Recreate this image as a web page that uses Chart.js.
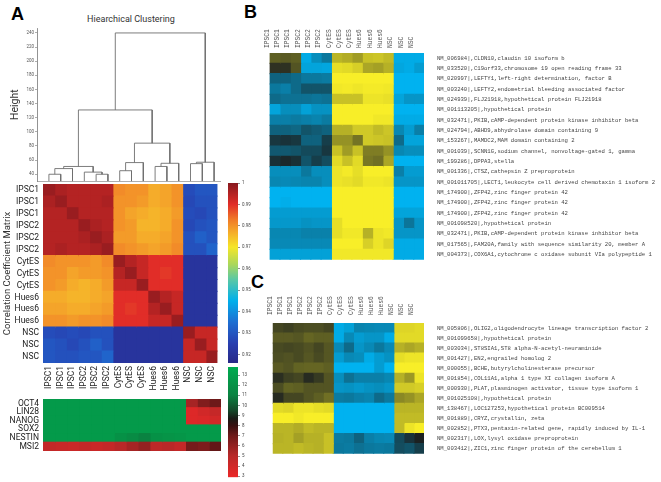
<!DOCTYPE html>
<html>
<head>
<meta charset="utf-8">
<script src="https://cdn.jsdelivr.net/npm/chart.js"></script>
<style>
  html, body { margin: 0; padding: 0; background: #fff; }
  body { width: 661px; height: 482px; position: relative; overflow: hidden; font-family: Roboto, sans-serif; }
  canvas { position: absolute; }
  .panel { position: absolute; font-family: "Liberation Sans", Arial, sans-serif; font-weight: bold; font-size: 18px; line-height: 1; color: #000; }
  .title { position: absolute; left: 60px; width: 142px; top: 14px; text-align: center; font-size: 9px; color: #333; }
</style>
</head>
<body>
<div class="panel" style="left:11px;top:5px">A</div>
<div class="panel" style="left:244px;top:3px">B</div>
<div class="panel" style="left:251px;top:273px">C</div>
<div class="title">Hiearchical Clustering</div>

<canvas id="dendro" width="225" height="185" style="left:0;top:0"></canvas>
<canvas id="corr" width="225" height="225" style="left:0;top:175px"></canvas>
<canvas id="corrBar" width="45" height="195" style="left:222px;top:175px"></canvas>
<canvas id="markers" width="225" height="70" style="left:0;top:390px"></canvas>
<canvas id="exprBar" width="45" height="120" style="left:222px;top:362px"></canvas>
<canvas id="heatB" width="399" height="256" style="left:262px;top:20px"></canvas>
<canvas id="heatC" width="399" height="185" style="left:262px;top:285px"></canvas>

<script>
// ---- data ----
const samples = ['IPSC1','IPSC1','IPSC1','IPSC2','IPSC2','IPSC2','CytES','CytES','CytES','Hues6','Hues6','Hues6','NSC','NSC','NSC'];

// dendrogram links: [left x, left bottom, right x, right bottom, merge height] (x = column index)
const dendroBase = 30;
const dendroTicks = [40, 60, 80, 100, 120, 140, 160, 180, 200, 220, 240];
const dendroLinks = [
  [0.5, 30, 1.5, 30, 40],
  [1.0, 40, 2.5, 30, 48],
  [4.5, 30, 5.5, 30, 40],
  [3.5, 30, 5.0, 40, 43],
  [1.75, 48, 4.25, 43, 51],
  [6.5, 30, 7.5, 30, 45],
  [7.0, 45, 8.5, 30, 56.5],
  [9.5, 30, 10.5, 30, 51],
  [10.0, 51, 11.5, 30, 55.5],
  [12.5, 30, 13.5, 30, 55],
  [13.0, 55, 14.5, 30, 57],
  [7.75, 56.5, 10.75, 55.5, 84],
  [3.0, 51, 9.25, 84, 131],
  [6.125, 131, 13.75, 57, 240]
];

// correlation coefficient matrix (rows/cols = samples)
const corr = [
  [0.998,0.996,0.995,0.995,0.995,0.995, 0.981,0.980,0.980,0.977,0.978,0.980, 0.928,0.930,0.930],
  [0.996,0.998,0.995,0.995,0.995,0.996, 0.980,0.980,0.979,0.977,0.978,0.980, 0.927,0.929,0.929],
  [0.995,0.995,0.998,0.995,0.995,0.995, 0.980,0.978,0.977,0.976,0.977,0.979, 0.928,0.927,0.929],
  [0.995,0.995,0.995,0.998,0.996,0.995, 0.980,0.979,0.976,0.976,0.977,0.980, 0.927,0.929,0.930],
  [0.995,0.995,0.995,0.996,0.998,0.996, 0.979,0.979,0.977,0.977,0.978,0.980, 0.929,0.932,0.930],
  [0.995,0.996,0.995,0.995,0.996,0.998, 0.981,0.980,0.979,0.978,0.979,0.981, 0.929,0.929,0.933],
  [0.981,0.980,0.980,0.980,0.979,0.981, 0.998,0.995,0.993,0.990,0.990,0.990, 0.921,0.921,0.921],
  [0.980,0.980,0.978,0.979,0.979,0.980, 0.995,0.998,0.993,0.990,0.989,0.990, 0.921,0.921,0.921],
  [0.980,0.979,0.977,0.976,0.977,0.979, 0.993,0.993,0.998,0.990,0.990,0.990, 0.921,0.921,0.921],
  [0.977,0.977,0.976,0.976,0.977,0.978, 0.990,0.990,0.990,0.998,0.995,0.993, 0.921,0.921,0.921],
  [0.978,0.978,0.977,0.977,0.978,0.979, 0.990,0.989,0.990,0.995,0.998,0.993, 0.921,0.921,0.921],
  [0.980,0.980,0.979,0.980,0.980,0.981, 0.990,0.990,0.990,0.993,0.993,0.998, 0.921,0.921,0.921],
  [0.928,0.927,0.928,0.927,0.929,0.929, 0.921,0.921,0.921,0.921,0.921,0.921, 0.998,0.993,0.993],
  [0.930,0.929,0.927,0.929,0.932,0.929, 0.921,0.921,0.921,0.921,0.921,0.921, 0.993,0.998,0.993],
  [0.930,0.929,0.929,0.930,0.930,0.933, 0.921,0.921,0.921,0.921,0.921,0.921, 0.993,0.993,0.998]
];
const corrMin = 0.916, corrMax = 1;
const corrTicks = [0.92, 0.93, 0.94, 0.95, 0.96, 0.97, 0.98, 0.99, 1];

// marker gene expression
const markers = ['OCT4', 'LIN28', 'NANOG', 'SOX2', 'NESTIN', 'MSI2'];
const markerExpr = [
  [12.6,12.6,12.6,12.6,12.6,12.6, 12.6,12.6,12.6,12.6,12.6,12.6, 5.5,6.5,7.0],
  [12.6,12.6,12.6,12.6,12.6,12.6, 12.6,12.6,12.6,12.6,12.6,12.6, 3.5,4.0,4.5],
  [12.6,12.6,12.6,12.6,12.6,12.6, 12.6,12.6,12.6,12.6,12.6,12.6, 3.5,3.6,4.0],
  [12.6,12.6,12.6,12.6,12.6,12.6, 12.6,12.6,12.6,12.6,12.6,12.6, 12.6,12.6,12.6],
  [12.6,12.6,12.6,12.6,12.6,12.6, 12.0,11.6,11.0,12.0,12.2,12.3, 12.6,12.6,12.6],
  [4.6,4.4,4.3,4.5,4.3,4.5, 5.0,5.5,6.0,4.8,5.0,4.6, 6.8,6.6,7.2]
];
const exprMin = 2.9, exprMax = 13.8;
const exprTicks = [3, 4, 5, 6, 7, 8, 9, 10, 11, 12, 13];

// panel B: genes up in ES/iPS
const genesB = [
  'NM_006984|,CLDN10,claudin 10 isoform b',
  'NM_033520|,C19orf33,chromosome 19 open reading frame 33',
  'NM_020997|,LEFTY1,left-right determination, factor B',
  'NM_003240|,LEFTY2,endometrial bleeding associated factor',
  'NM_024939|,FLJ21918,hypothetical protein FLJ21918',
  'NM_001113205|,hypothetical protein',
  'NM_032471|,PKIB,cAMP-dependent protein kinase inhibitor beta',
  'NM_024794|,ABHD9,abhydrolase domain containing 9',
  'NM_153267|,MAMDC2,MAM domain containing 2',
  'NM_001039|,SCNN1G,sodium channel, nonvoltage-gated 1, gamma',
  'NM_199286|,DPPA3,stella',
  'NM_001336|,CTSZ,cathepsin Z preproprotein',
  'NM_001011705|,LECT1,leukocyte cell derived chemotaxin 1 isoform 2',
  'NM_174900|,ZFP42,zinc finger protein 42',
  'NM_174900|,ZFP42,zinc finger protein 42',
  'NM_174900|,ZFP42,zinc finger protein 42',
  'NM_001098520|,hypothetical protein',
  'NM_032471|,PKIB,cAMP-dependent protein kinase inhibitor beta',
  'NM_017565|,FAM20A,family with sequence similarity 20, member A',
  'NM_004373|,COX6A1,cytochrome c oxidase subunit VIa polypeptide 1'
];
const exprB = [
  [0.30,0.28,0.30,-0.95,-0.75,-0.60, 0.72,0.68,0.60,0.78,0.80,0.75, -0.95,-0.95,-0.95],
  [0.08,0.08,0.25,-0.90,-0.90,-0.92, 0.92,0.90,0.85,0.65,0.62,0.70, -0.92,-0.95,-0.85],
  [-0.45,-0.45,-0.50,-0.60,-0.60,-0.62, 1,1,1,1,1,1, -1,-1,-1],
  [-0.60,-0.65,-0.50,-0.35,-0.35,-0.35, 0.97,0.98,0.96,0.98,0.98,0.97, -1,-1,-1],
  [-0.50,-0.55,-0.55,-0.55,-0.58,-0.55, 0.78,0.78,0.78,0.95,0.95,0.93, -0.90,-0.80,-0.80],
  [-0.90,-0.75,-0.75,-0.88,-0.78,-0.78, 1,1,1,1,1,1, -1,-1,-1],
  [-0.65,-0.65,-0.62,-0.65,-0.68,-0.62, 1,1,1,1,0.97,0.97, -0.95,-0.95,-0.95],
  [-0.45,-0.45,-0.48,-0.35,-0.40,-0.45, 0.70,0.70,0.82,0.82,0.75,0.80, -0.70,-0.85,-0.65],
  [-0.15,-0.12,-0.15,-0.45,-0.45,-0.20, 0.55,0.55,0.40,0.82,0.80,0.78, -0.50,-0.90,-0.90],
  [-0.38,-0.38,-0.35,-0.28,-0.28,-0.15, 0.78,0.60,0.78,0.45,0.45,0.55, -0.70,-0.75,-0.75],
  [-0.10,-0.05,-0.10,-0.35,-0.20,-0.30, 0.90,0.78,0.90,0.42,0.38,0.65, -1,-1,-1],
  [-0.75,-0.75,-0.75,-0.60,-0.75,-0.75, 0.95,0.98,0.92,1,1,1, -0.65,-0.85,-0.85],
  [-0.70,-0.72,-0.70,-0.68,-0.68,-0.75, 0.95,0.93,0.90,0.97,0.97,0.95, -0.80,-0.80,-0.80],
  [-1,-1,-1,-1,-1,-1, 1,1,1,1,1,1, -1,-1,-1],
  [-1,-0.97,-1,-1,-1,-1, 1,1,1,1,1,1, -1,-1,-1],
  [-0.85,-0.85,-0.85,-0.85,-0.85,-0.85, 1,1,1,1,1,1, -0.90,-0.90,-0.90],
  [-0.82,-0.82,-0.82,-0.78,-0.80,-0.80, 0.92,1,1,1,1,1, -0.80,-0.58,-0.80],
  [-0.70,-0.70,-0.70,-0.66,-0.66,-0.66, 0.92,0.97,0.97,0.70,0.95,0.97, -0.80,-0.80,-0.80],
  [-0.72,-0.72,-0.72,-0.72,-0.72,-0.72, 1,1,1,0.85,0.95,0.88, -0.95,-0.95,-0.95],
  [-0.88,-0.88,-0.88,-0.88,-0.88,-0.88, 0.97,0.97,0.97,0.97,0.97,0.97, -0.95,-0.95,-0.95]
];

// panel C: genes up in NSC
const genesC = [
  'NM_005806|,OLIG2,oligodendrocyte lineage transcription factor 2',
  'NM_001099658|,hypothetical protein',
  'NM_003034|,ST8SIA1,ST8 alpha-N-acetyl-neuraminide',
  'NM_001427|,EN2,engrailed homolog 2',
  'NM_000055|,BCHE,butyrylcholinesterase precursor',
  'NM_001854|,COL11A1,alpha 1 type XI collagen isoform A',
  'NM_000930|,PLAT,plasminogen activator, tissue type isoform 1',
  'NM_001025108|,hypothetical protein',
  'NM_138467|,LOC127253,hypothetical protein BC009514',
  'NM_001889|,CRYZ,crystallin, zeta',
  'NM_002852|,PTX3,pentaxin-related gene, rapidly induced by IL-1',
  'NM_002317|,LOX,lysyl oxidase preproprotein',
  'NM_003412|,ZIC1,zinc finger protein of the cerebellum 1'
];
const exprC = [
  [0.18,0.15,0.20,0.22,0.22,0.18, -0.95,-0.88,-0.68,-0.70,-0.72,-0.72, 0.88,0.88,0.90],
  [0.28,0.28,0.26,0.33,0.30,0.30, -0.95,-0.72,-0.85,-0.80,-0.80,-0.95, 0.90,0.90,0.90],
  [0.20,0.18,0.20,0.24,0.18,0.26, -0.72,-0.50,-0.80,-0.72,-0.60,-0.72, 0.70,0.65,0.70],
  [0.22,0.24,0.20,0.26,0.20,0.26, -0.85,-0.72,-0.75,-0.95,-0.85,-0.78, 0.92,0.95,0.95],
  [0.28,0.25,0.32,0.33,0.33,0.30, -1,-1,-1,-1,-0.85,-1, 1,1,1],
  [0.07,0.15,0.18,0.05,0.12,0.25, -0.75,-0.55,-0.65,-0.65,-0.65,-0.70, 0.70,0.58,0.95],
  [0.22,0.32,0.30,0.25,0.25,0.25, -0.80,-0.78,-0.82,-0.78,-0.75,-0.80, 0.82,0.82,0.85],
  [0.05,0.18,0.18,0.25,0.30,0.38, -0.62,-0.60,-0.65,-0.68,-0.50,-0.60, 0.50,0.55,0.65],
  [0.90,0.88,0.95,0.95,0.92,0.90, -1,-1,-1,-1,-1,-1, 0.72,0.72,0.72],
  [1,1,0.97,1,1,1, -1,-1,-1,-1,-1,-1, 0.75,0.75,0.75],
  [0.72,0.72,0.68,0.75,0.72,0.72, -1,-1,-1,-1,-1,-1, 0.75,0.95,1],
  [0.70,0.72,0.62,0.70,0.70,0.78, -0.62,-0.60,-0.45,-0.65,-0.70,-0.72, -0.28,-0.12,0],
  [0.72,0.72,0.75,0.72,0.70,0.78, -0.60,-0.62,-0.55,-0.60,-0.62,-0.60, -0.30,-0.35,-0.20]
];

// ---- colour maps ----
const jetStops = [
  [0.916, [40,40,135]], [0.925, [40,62,175]], [0.935, [30,110,210]], [0.945, [0,175,235]],
  [0.955, [90,200,165]], [0.962, [170,215,90]], [0.970, [245,230,40]], [0.977, [245,172,42]],
  [0.983, [240,122,40]], [0.990, [225,45,40]], [0.995, [180,35,35]], [1.0, [135,25,30]]
];
const redGreenStops = [
  [2.9, [235,40,40]], [5, [185,40,40]], [7, [110,25,25]], [8, [55,15,15]], [8.7, [25,25,20]],
  [9.5, [20,70,40]], [11, [10,130,65]], [13.8, [0,172,80]]
];
const cyanYellowStops = [
  [-1, [0,178,240]], [0, [28,33,33]], [1, [248,238,40]]
];

function colorAt(stops, v) {
  if (v <= stops[0][0]) return stops[0][1];
  for (let i = 1; i < stops.length; i++) {
    if (v <= stops[i][0]) {
      const [v0, c0] = stops[i - 1], [v1, c1] = stops[i];
      const t = (v - v0) / (v1 - v0);
      return c0.map((a, k) => Math.round(a + (c1[k] - a) * t));
    }
  }
  return stops[stops.length - 1][1];
}
const rgb = c => 'rgb(' + c[0] + ',' + c[1] + ',' + c[2] + ')';

Chart.defaults.font.family = 'Roboto, sans-serif';
Chart.defaults.color = '#333';

const noPlugins = { legend: { display: false }, tooltip: { enabled: false } };

// heatmap drawn as floating horizontal bars, one dataset per column
function heatmap(id, rowLabels, values, stops, o) {
  const nCols = values[0].length;
  const datasets = [];
  for (let c = 0; c < nCols; c++) {
    datasets.push({
      data: rowLabels.map(() => [c, c + 1]),
      backgroundColor: values.map(r => rgb(colorAt(stops, r[c]))),
      borderWidth: 0,
      inflateAmount: 0.6,
      barPercentage: 1,
      categoryPercentage: 1,
      grouped: false
    });
  }
  return new Chart(document.getElementById(id), {
    type: 'bar',
    data: { labels: rowLabels, datasets },
    options: {
      indexAxis: 'y',
      responsive: false,
      animation: false,
      events: [],
      layout: { padding: o.padding },
      plugins: noPlugins,
      scales: {
        x: {
          type: 'linear', min: 0, max: nCols, bounds: 'data',
          position: o.xPos,
          display: o.showCols,
          afterBuildTicks: s => { s.ticks = samples.map((_, i) => ({ value: i + 0.5 })); },
          afterFit: s => { s.height = o.xHeight; },
          grid: { display: false, drawTicks: false },
          border: { display: false },
          ticks: {
            autoSkip: false, minRotation: 90, maxRotation: 90,
            padding: o.xPad, font: o.colFont, color: o.colColor,
            callback: v => samples[Math.floor(v)]
          }
        },
        y: {
          type: 'category', offset: true,
          position: o.yPos,
          afterFit: s => { s.width = o.yWidth; },
          grid: { display: false, drawTicks: false },
          border: { display: false },
          ticks: { autoSkip: false, padding: o.yPad, font: o.rowFont, color: o.rowColor },
          title: o.yTitle || { display: false }
        }
      }
    }
  });
}

// colour bar: one floating bar filled with a gradient along the y scale
function colorBar(id, lo, hi, ticks, stops, padding) {
  return new Chart(document.getElementById(id), {
    type: 'bar',
    data: {
      labels: [''],
      datasets: [{
        data: [[lo, hi]],
        borderWidth: 0,
        barPercentage: 1,
        categoryPercentage: 1,
        backgroundColor: ctx => {
          const chart = ctx.chart;
          if (!chart.chartArea) return 'transparent';
          const y = chart.scales.y;
          const g = chart.ctx.createLinearGradient(0, y.getPixelForValue(lo), 0, y.getPixelForValue(hi));
          stops.forEach(([v, c]) => g.addColorStop(Math.min(1, Math.max(0, (v - lo) / (hi - lo))), rgb(c)));
          return g;
        }
      }]
    },
    options: {
      responsive: false,
      animation: false,
      events: [],
      layout: { padding },
      plugins: noPlugins,
      scales: {
        x: { display: false },
        y: {
          type: 'linear', min: lo, max: hi, position: 'right',
          afterBuildTicks: s => { s.ticks = ticks.map(v => ({ value: v })); },
          afterFit: s => { s.width = 29; },
          grid: { drawOnChartArea: false, drawTicks: true, tickLength: 2, color: '#444', lineWidth: 0.6 },
          border: { display: false },
          ticks: { font: { size: 4.5 }, color: '#444', padding: 2, callback: v => String(v) }
        }
      }
    }
  });
}

// ---- dendrogram ----
new Chart(document.getElementById('dendro'), {
  type: 'scatter',
  data: {
    datasets: dendroLinks.map(l => ({
      data: [{ x: l[0], y: l[1] }, { x: l[0], y: l[4] }, { x: l[2], y: l[4] }, { x: l[2], y: l[3] }],
      showLine: true,
      borderColor: '#6e6e6e',
      borderWidth: 0.9,
      pointRadius: 0,
      tension: 0,
      fill: false
    }))
  },
  options: {
    responsive: false,
    animation: false,
    events: [],
    layout: { padding: { top: 28, right: 5, bottom: 3, left: 0 } },
    plugins: noPlugins,
    scales: {
      x: {
        type: 'linear', min: -0.51, max: 15,
        afterFit: s => { s.height = 0; },
        ticks: { display: false },
        grid: { display: false, drawTicks: false },
        border: { display: true, color: '#999', width: 0.8 }
      },
      y: {
        type: 'linear', min: dendroBase, max: 247,
        afterBuildTicks: s => { s.ticks = dendroTicks.map(v => ({ value: v })); },
        afterFit: s => { s.width = 37; },
        grid: { drawOnChartArea: false, drawTicks: true, tickLength: 2, color: '#777', lineWidth: 0.6 },
        border: { display: true, color: '#777', width: 0.8 },
        ticks: { font: { size: 4.5 }, color: '#555', padding: 1 },
        title: { display: true, text: 'Height', font: { size: 10.5 }, color: '#333', padding: { top: 9, bottom: 0 } }
      }
    }
  }
});

// ---- panel A: correlation matrix ----
heatmap('corr', samples, corr, jetStops, {
  padding: { top: 8, right: 5, bottom: 0, left: 0 },
  xPos: 'bottom', showCols: true, xHeight: 37, xPad: 3,
  colFont: { size: 8.5 }, colColor: '#222',
  yPos: 'left', yWidth: 43, yPad: 4,
  rowFont: { size: 8.5 }, rowColor: '#222',
  yTitle: { display: true, text: 'Correlation Coefficient Matrix', font: { size: 9.5 }, color: '#333', padding: { top: 2, bottom: 0 } }
});
colorBar('corrBar', corrMin, corrMax, corrTicks, jetStops, { left: 6, top: 8, bottom: 7, right: 0 });

heatmap('markers', markers, markerExpr, redGreenStops, {
  padding: { top: 5, right: 4, bottom: 7, left: 0 },
  xPos: 'bottom', showCols: false, xHeight: 0, xPad: 0,
  colFont: { size: 8 }, colColor: '#222',
  yPos: 'left', yWidth: 43, yPad: 4,
  rowFont: { size: 8.5 }, rowColor: '#222'
});
colorBar('exprBar', exprMin, exprMax, exprTicks, redGreenStops, { left: 6, top: 5, bottom: 3, right: 0 });

// ---- panels B and C ----
const monoCol = { family: '"Liberation Mono", "DejaVu Sans Mono", monospace', size: 6.3 };
const monoRow = { family: '"Liberation Mono", "DejaVu Sans Mono", monospace', size: 5.6 };

heatmap('heatB', genesB, exprB, cyanYellowStops, {
  padding: { top: 0, right: 0, bottom: 7, left: 6 },
  xPos: 'top', showCols: true, xHeight: 33, xPad: 5,
  colFont: monoCol, colColor: '#555',
  yPos: 'right', yWidth: 237, yPad: 13,
  rowFont: monoRow, rowColor: '#444'
});

heatmap('heatC', genesC, exprC, cyanYellowStops, {
  padding: { top: 0, right: 0, bottom: 8, left: 6 },
  xPos: 'top', showCols: true, xHeight: 38, xPad: 8,
  colFont: monoCol, colColor: '#555',
  yPos: 'right', yWidth: 237, yPad: 13,
  rowFont: monoRow, rowColor: '#444'
});
</script>
</body>
</html>
